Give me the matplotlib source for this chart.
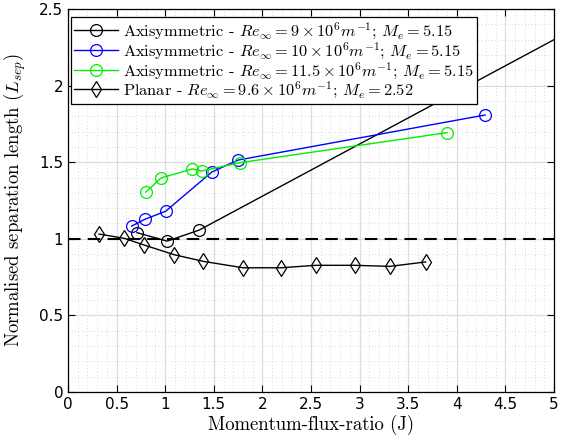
import matplotlib
matplotlib.use("Agg")
import matplotlib.pyplot as plt
from matplotlib.ticker import MultipleLocator, FuncFormatter

plt.rcParams['mathtext.fontset'] = 'cm'
plt.rcParams['font.family'] = 'DejaVu Sans'

# Axisymmetric, Re = 9e6 (last point lies beyond the x-limit, only the line shows)
j_ax9 = [0.71, 1.02, 1.35, 6.0]
l_ax9 = [1.04, 0.985, 1.057, 2.64]

# Axisymmetric, Re = 10e6
j_ax10 = [0.655, 0.79, 1.005, 1.48, 1.75, 4.29]
l_ax10 = [1.083, 1.127, 1.18, 1.436, 1.514, 1.808]

# Axisymmetric, Re = 11.5e6
j_ax115 = [0.80, 0.957, 1.28, 1.375, 1.77, 3.90]
l_ax115 = [1.305, 1.397, 1.456, 1.443, 1.497, 1.693]

# Planar, Re = 9.6e6
j_pl = [0.32, 0.58, 0.78, 1.094, 1.39, 1.80, 2.19, 2.55, 2.95, 3.31, 3.68]
l_pl = [1.031, 1.003, 0.96, 0.896, 0.853, 0.811, 0.811, 0.827, 0.827, 0.82, 0.849]

labels = [
    r'Axisymmetric - $Re_{\infty} = 9 \times 10^6 m^{-1}$; $M_e = 5.15$',
    r'Axisymmetric - $Re_{\infty} = 10 \times 10^6 m^{-1}$; $M_e = 5.15$',
    r'Axisymmetric - $Re_{\infty} = 11.5 \times 10^6 m^{-1}$; $M_e = 5.15$',
    r'Planar - $Re_{\infty} = 9.6 \times 10^6 m^{-1}$; $M_e = 2.52$',
]

fig = plt.figure(figsize=(5.61, 4.43), dpi=100)
ax = fig.add_axes([0.1212, 0.1151, 0.8663, 0.8646])

ax.plot(j_ax9, l_ax9, '-o', color='black', lw=1, ms=8.5, mfc='none', mew=0.9, label=labels[0])
ax.plot(j_ax10, l_ax10, '-o', color='#0000ff', lw=1, ms=8.5, mfc='none', mew=0.9, label=labels[1])
ax.plot(j_ax115, l_ax115, '-o', color='#00ee00', lw=1, ms=8.5, mfc='none', mew=0.9, label=labels[2])
ax.plot(j_pl, l_pl, '-d', color='black', lw=1, ms=8.5, mfc='none', mew=0.9, label=labels[3])
ax.axhline(1.0, color='black', lw=1.5, ls=(0, (6, 3.5)))

ax.set_xlim(0, 5)
ax.set_ylim(0, 2.5)
ax.xaxis.set_major_locator(MultipleLocator(0.5))
ax.yaxis.set_major_locator(MultipleLocator(0.5))
ax.xaxis.set_minor_locator(MultipleLocator(0.1))
ax.yaxis.set_minor_locator(MultipleLocator(0.1))
fmt = FuncFormatter(lambda v, p: ('%g' % round(v, 2)))
ax.xaxis.set_major_formatter(fmt)
ax.yaxis.set_major_formatter(fmt)
ax.grid(which='major', color='#dddddd', lw=0.9)
ax.grid(which='minor', color='#cccccc', lw=0.6, ls=(0, (1, 3)))
ax.set_axisbelow(True)
ax.tick_params(which='both', direction='in', top=True, right=True, labelsize=11)
ax.tick_params(which='minor', length=0)
ax.tick_params(which='major', length=5)
for s in ax.spines.values():
    s.set_linewidth(0.9)

ax.set_xlabel('Momentum-flux-ratio (J)', fontfamily='cmr10', fontsize=13.5, labelpad=2)
ax.set_ylabel(r'Normalised separation length ($L_{sep}$)', fontfamily='cmr10', fontsize=13.5, labelpad=8)

leg = ax.legend(loc='upper left', bbox_to_anchor=(0.006, 0.979),
                prop={'family': 'cmr10', 'size': 11.8},
                fancybox=False, edgecolor='black', framealpha=1,
                borderpad=0.2, labelspacing=-0.05, handlelength=2.7,
                handletextpad=0.25, borderaxespad=0)
leg.get_frame().set_linewidth(0.9)

fig.savefig('out.png', dpi=100)
